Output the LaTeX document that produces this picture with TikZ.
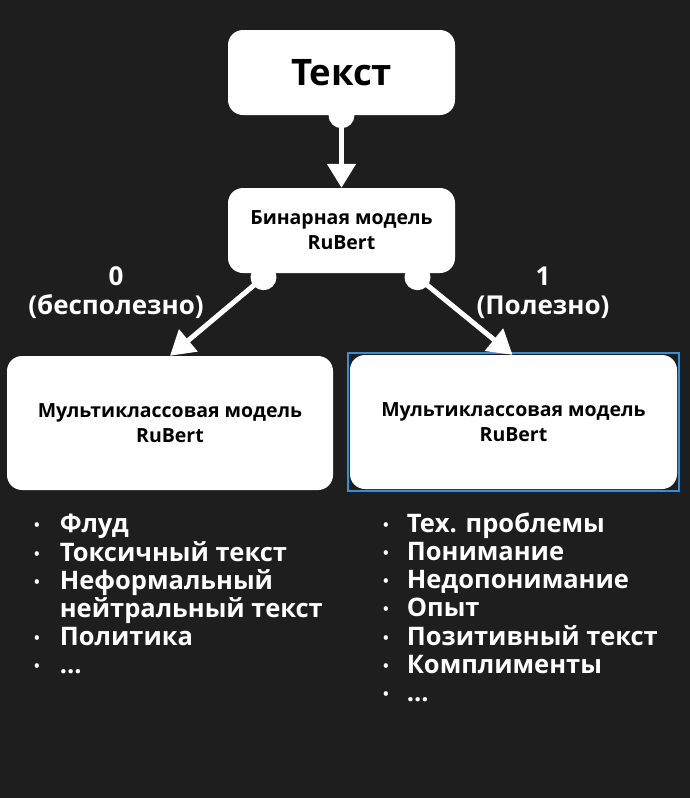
\documentclass[tikz,border=0pt]{standalone}
\usepackage{fontspec}
\setmainfont{Open Sans}[BoldFont={Open Sans Bold}]
\usetikzlibrary{arrows.meta,positioning}
\definecolor{bgdark}{HTML}{1E1E1E}
\definecolor{selblue}{HTML}{2F8FE0}
\newcommand{\bul}{{\fontsize{15}{15}\selectfont\raisebox{2pt}{•}}}
\tikzset{
  box/.style={fill=white, rounded corners=15pt, text=black, font=\bfseries\fontsize{19.5}{25}\selectfont, align=center, inner sep=0pt},
  link/.style={draw=white, line width=5pt, -{Triangle[width=28pt,length=24pt]}},
  knob/.style={fill=white},
  lbl/.style={text=white, font=\bfseries\fontsize{26}{29}\selectfont, align=center},
  lst/.style={text=white, font=\bfseries\fontsize{25.5}{28}\selectfont, anchor=north west, inner sep=0pt}
}
\begin{document}
\begin{tikzpicture}[x=1pt,y=-1pt]
\fill[bgdark] (0,0) rectangle (690,798);
\useasboundingbox (0,0) rectangle (690,798);

% boxes
\node[box, minimum width=227pt, minimum height=85pt, font=\bfseries\fontsize{36.5}{40}\selectfont] (txt) at (341.5,72.5) {Текст};
\node[box, minimum width=227pt, minimum height=85pt] (bin) at (341.5,230.5) {Бинарная модель\\RuBert};
\node[box, minimum width=326pt, minimum height=134pt] (mcl) at (170,423) {Мультиклассовая модель\\RuBert};
\node[box, minimum width=327pt, minimum height=134pt] (mcr) at (513.5,422) {Мультиклассовая модель\\RuBert};
\draw[selblue, line width=1.6pt] ([xshift=-2pt,yshift=2pt]mcr.north west) rectangle ([xshift=2pt,yshift=-2pt]mcr.south east);

% connectors
\coordinate (tb) at (txt.south);
\coordinate (bl) at ([xshift=-78pt,yshift=-4pt]bin.south);
\coordinate (br) at ([xshift=76pt,yshift=-4pt]bin.south);
\fill[knob] (tb) circle (13pt);
\fill[knob] (bl) circle (13pt);
\fill[knob] (br) circle (13pt);
\draw[link] (tb) -- (bin.north);
\draw[link] (bl) -- (mcl.north);
\draw[link] (br) -- ([xshift=-1pt]mcr.north);

% labels
\node[lbl] (l0) at (116,293) {0\\(бесполезно)};
\node[lbl] (l1) at (543,293) {1\\(Полезно)};

% lists
\node[lst] (lstl) at (34,513) {\begin{tabular}{@{}l@{\hspace{20pt}}l@{}}
\bul & Флуд\\
\bul & Токсичный текст\\
\bul & Неформальный\\
     & нейтральный текст\\
\bul & Политика\\
\bul & ...
\end{tabular}};
\node[lst] (lstr) at (383,513) {\begin{tabular}{@{}l@{\hspace{18pt}}l@{}}
\bul & Тех. проблемы\\
\bul & Понимание\\
\bul & Недопонимание\\
\bul & Опыт\\
\bul & Позитивный текст\\
\bul & Комплименты\\
\bul & ...
\end{tabular}};
\end{tikzpicture}
\end{document}
